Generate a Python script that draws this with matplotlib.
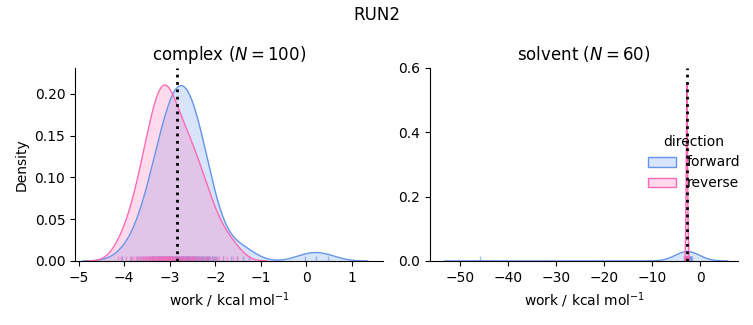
import numpy as np
import matplotlib.pyplot as plt
from matplotlib.patches import Patch

complex_forward = [
    -4.04, -3.84, -3.72, -3.65, -3.59, -3.54, -3.50, -3.46, -3.43, -3.40,
    -3.37, -3.34, -3.32, -3.29, -3.27, -3.25, -3.23, -3.21, -3.19, -3.17,
    -3.15, -3.13, -3.12, -3.10, -3.08, -3.07, -3.05, -3.04, -3.02, -3.01,
    -2.99, -2.98, -2.96, -2.95, -2.94, -2.92, -2.91, -2.89, -2.88, -2.87,
    -2.85, -2.84, -2.83, -2.82, -2.80, -2.79, -2.78, -2.76, -2.75,
    -2.74, -2.72, -2.71, -2.70, -2.69, -2.67, -2.66, -2.65, -2.63, -2.62,
    -2.61, -2.59, -2.58, -2.57, -2.55, -2.54, -2.52, -2.51, -2.50, -2.48,
    -2.47, -2.45, -2.43, -2.42, -2.40, -2.39, -2.37, -2.35, -2.33, -2.31,
    -2.30, -2.28, -2.26, -2.23, -2.21, -2.19, -2.16, -2.13, -2.11, -2.08,
    -2.04, -2.00, -1.96, -1.82, -1.66, -1.52, -1.40, -1.27,
    -0.04, 0.20, 0.48,
]
complex_reverse = [
    -4.13, -4.06, -3.95, -3.88, -3.83, -3.78, -3.74, -3.70, -3.67, -3.64,
    -3.62, -3.59, -3.56, -3.54, -3.52, -3.50, -3.48, -3.46, -3.44, -3.42,
    -3.40, -3.39, -3.37, -3.36, -3.34, -3.32, -3.31, -3.29, -3.28, -3.26,
    -3.25, -3.24, -3.22, -3.21, -3.20, -3.18, -3.17, -3.16, -3.14, -3.13,
    -3.12, -3.11, -3.09, -3.08, -3.07, -3.06, -3.04, -3.03, -3.02, -3.01,
    -3.00, -2.99, -2.97, -2.95, -2.93, -2.92, -2.90, -2.88, -2.86, -2.85,
    -2.83, -2.81, -2.80, -2.78, -2.76, -2.74, -2.72, -2.70, -2.68, -2.66,
    -2.64, -2.62, -2.60, -2.58, -2.56, -2.54, -2.52, -2.49, -2.49, -2.47,
    -2.44, -2.42, -2.39, -2.37, -2.33, -2.31, -2.27, -2.24, -2.20, -2.19,
    -2.17, -2.13, -2.08, -2.03, -1.98, -1.91, -1.83, -1.74, -1.62, -1.53,
]
solvent_forward = [
    -3.40, -3.28, -3.20, -3.15, -3.11, -3.08, -3.05, -3.02, -3.00, -2.98,
    -2.96, -2.94, -2.92, -2.90, -2.89, -2.87, -2.85, -2.84, -2.82, -2.81,
    -2.79, -2.78, -2.76, -2.75, -2.74, -2.72, -2.71, -2.70, -2.68, -2.67,
    -2.66, -2.64, -2.63, -2.62, -2.60, -2.59, -2.57, -2.56, -2.54, -2.53,
    -2.51, -2.49, -2.47, -2.45, -2.43, -2.41, -2.39, -2.36, -2.33, -2.30,
    -2.27, -2.23, -2.19, -2.14, -2.08, -2.01, -1.92, -1.80, -1.62,
    -45.9,
]
solvent_reverse = [
    -3.06, -3.01, -2.98, -2.95, -2.93, -2.91, -2.90, -2.89, -2.88, -2.87,
    -2.86, -2.85, -2.85, -2.84, -2.83, -2.81, -2.81, -2.80, -2.79, -2.79,
    -2.78, -2.77, -2.77, -2.76, -2.76, -2.75, -2.75, -2.74, -2.74, -2.74,
    -2.74, -2.74, -2.73, -2.73, -2.72, -2.72, -2.71, -2.71, -2.70, -2.69,
    -2.69, -2.68, -2.67, -2.67, -2.65, -2.64, -2.63, -2.63, -2.62, -2.61,
    -2.60, -2.59, -2.58, -2.57, -2.55, -2.53, -2.50, -2.47, -2.42, -2.39,
]
# free energy estimates (dotted lines)
dG_complex = -2.85
dG_solvent = -2.72

colors = {'forward': '#6495ED', 'reverse': '#FF69B4'}
n_all = len(complex_forward) + len(complex_reverse) + len(solvent_forward) + len(solvent_reverse)


def kde(values, n_total, gridsize=200, cut=3):
    """gaussian kde with scott bandwidth, normalised over all groups"""
    x = np.asarray(values, dtype=float)
    bw = x.std(ddof=1) * len(x) ** (-1 / 5)
    grid = np.linspace(x.min() - cut * bw, x.max() + cut * bw, gridsize)
    dens = np.exp(-0.5 * ((grid[:, None] - x[None, :]) / bw) ** 2).sum(axis=1)
    dens /= n_total * bw * np.sqrt(2 * np.pi)
    return grid, dens


def draw(ax, data, dG, title, xlim, ylim):
    for name, vals in data.items():
        c = colors[name]
        grid, dens = kde(vals, n_all)
        ax.fill_between(grid, 0, dens, color=c, alpha=0.25, lw=0)
        ax.plot(grid, dens, color=c, lw=1)
        ax.vlines(vals, 0, 0.025, transform=ax.get_xaxis_transform(),
                  color=c, alpha=0.6, lw=1)
    ax.axvline(dG, color='black', ls=':', lw=2)
    ax.set_xlim(*xlim)
    ax.set_ylim(*ylim)
    ax.set_title(title, fontsize=12)
    ax.set_xlabel('work / kcal mol$^{-1}$')
    ax.spines['top'].set_visible(False)
    ax.spines['right'].set_visible(False)


fig, (ax1, ax2) = plt.subplots(1, 2, figsize=(7.53, 3.25), dpi=100)
fig.subplots_adjust(left=0.0996, right=0.980, bottom=0.197, top=0.791, wspace=0.153)

draw(ax1, {'forward': complex_forward, 'reverse': complex_reverse}, dG_complex,
     'complex ($N = %d$)' % len(complex_forward), (-5.08, 1.68), (0, 0.231))
ax1.set_ylabel('Density')
ax1.set_yticks([0, 0.05, 0.10, 0.15, 0.20])
ax1.set_xticks(range(-5, 2))

draw(ax2, {'forward': solvent_forward, 'reverse': solvent_reverse}, dG_solvent,
     'solvent ($N = %d$)' % len(solvent_forward), (-56.3, 7.9), (0, 0.6))
ax2.set_yticks([0, 0.2, 0.4, 0.6])
ax2.set_xticks([-50, -40, -30, -20, -10, 0])

handles = [Patch(facecolor=(*plt.matplotlib.colors.to_rgb(colors[k]), 0.25),
                 edgecolor=colors[k]) for k in colors]
fig.legend(handles, list(colors), title='direction', loc='center right',
           bbox_to_anchor=(1.0, 0.5), frameon=False)

fig.suptitle('RUN2', fontsize=12)
fig.savefig('out.png')
